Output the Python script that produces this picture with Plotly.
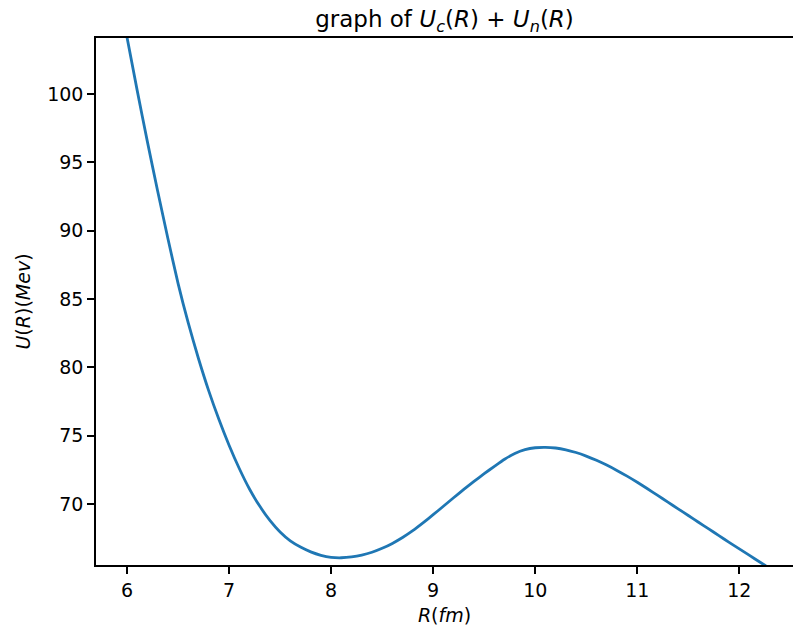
import plotly.graph_objects as go

R_fm = [6.0, 6.1, 6.2, 6.3, 6.4, 6.5, 6.6, 6.7, 6.8, 6.9,
        7.0, 7.1, 7.2, 7.3, 7.4, 7.5, 7.6, 7.7, 7.8, 7.9,
        8.0, 8.1, 8.2, 8.3, 8.4, 8.5, 8.6, 8.7, 8.8, 8.9,
        9.0, 9.1, 9.2, 9.3, 9.4, 9.5, 9.6, 9.7, 9.8, 9.9,
        10.0, 10.1, 10.2, 10.3, 10.4, 10.5, 10.6, 10.7, 10.8, 10.9,
        11.0, 11.1, 11.2, 11.3, 11.4, 11.5, 11.6, 11.7, 11.8, 11.9,
        12.0, 12.1, 12.2, 12.3, 12.4, 12.5]
U_mev = [104.15, 100.25, 96.5, 92.9, 89.45, 86.15, 83.25, 80.65, 78.3, 76.2,
         74.3, 72.6, 71.1, 69.85, 68.8, 67.95, 67.3, 66.85, 66.5, 66.25,
         66.1, 66.07, 66.13, 66.26, 66.47, 66.76, 67.12, 67.55, 68.05, 68.62,
         69.22, 69.84, 70.46, 71.07, 71.66, 72.22, 72.76, 73.28, 73.7, 73.98,
         74.12, 74.15, 74.1, 73.97, 73.77, 73.51, 73.2, 72.85, 72.46, 72.04,
         71.59, 71.12, 70.63, 70.14, 69.65, 69.16, 68.67, 68.18, 67.69, 67.2,
         66.72, 66.24, 65.76, 65.28, 64.8, 64.32]
x_ticks = [6, 7, 8, 9, 10, 11, 12]
y_ticks = [70, 75, 80, 85, 90, 95, 100]

fig = go.Figure()
fig.add_trace(go.Scatter(x=R_fm, y=U_mev, mode="lines",
                         line=dict(color="#1f77b4", width=2.8, shape="spline", smoothing=0.6),
                         showlegend=False))

font = "DejaVu Sans"
fig.update_layout(
    width=793, height=626,
    margin=dict(l=96, r=0, t=38, b=61),
    paper_bgcolor="white", plot_bgcolor="white",
    font=dict(family=font, size=19, color="black"),
    title=dict(text="graph of <i>U</i><sub><i>c</i></sub>(<i>R</i>) + <i>U</i><sub><i>n</i></sub>(<i>R</i>)",
               x=0.5, xref="paper", xanchor="center",
               y=1 - 19 / 626, yref="container", yanchor="middle",
               font=dict(family=font, size=23, color="black")),
)
fig.update_xaxes(range=[5.696, 12.526], tickvals=x_ticks, ticks="outside", ticklen=7,
                 tickwidth=1.5, tickcolor="black", showline=True, linecolor="black",
                 linewidth=1.5, mirror=True, showgrid=False, zeroline=False,
                 title=dict(text="<i>R</i>(<i>fm</i>)", standoff=10,
                            font=dict(family=font, size=19)))
fig.update_yaxes(range=[65.54, 104.1], tickvals=y_ticks, ticks="outside", ticklen=7,
                 tickwidth=1.5, tickcolor="black", showline=True, linecolor="black",
                 linewidth=1.5, mirror=False, showgrid=False, zeroline=False,
                 title=dict(text="<i>U</i>(<i>R</i>)(<i>Mev</i>)", standoff=12,
                            font=dict(family=font, size=19)))

fig.write_html("out.html", config={"displayModeBar": False},
               post_script="document.body.style.margin='0';document.body.style.overflow='hidden';")
